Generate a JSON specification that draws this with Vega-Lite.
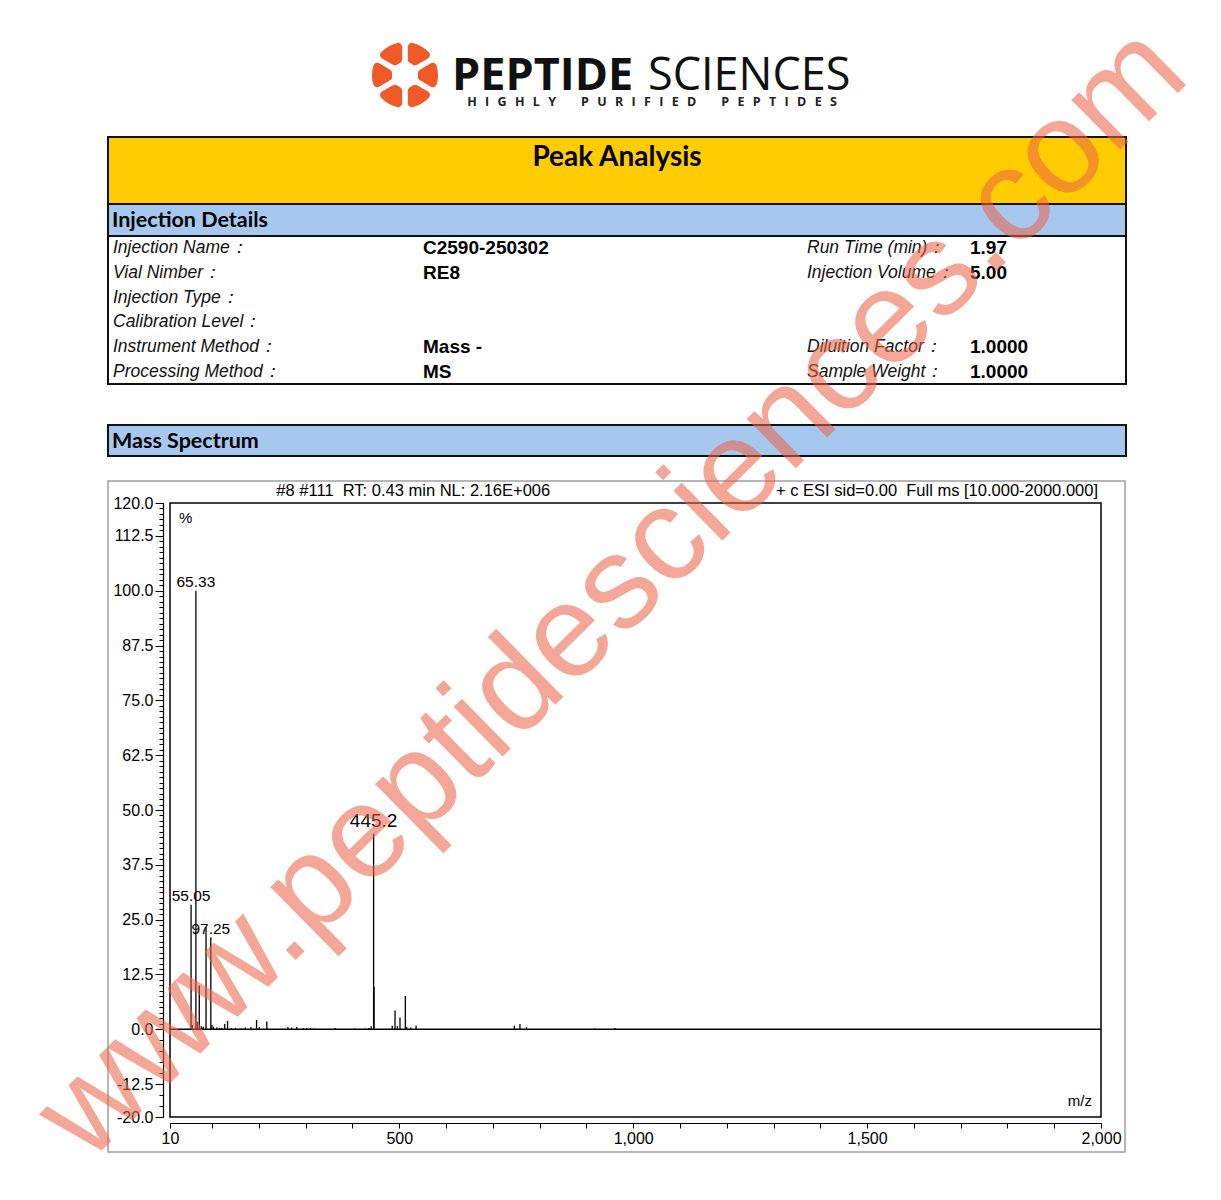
{
  "$schema": "https://vega.github.io/schema/vega-lite/v6.json",
  "background": "white",
  "padding": 0,
  "config": {
    "view": {"stroke": null},
    "font": "Liberation Sans",
    "text": {"font": "Liberation Sans", "fill": "#000"}
  },
  "datasets": {
    "peaks": [
      {"mz": 55.05, "intensity": 28.4, "label": "55.05"},
      {"mz": 57.7, "intensity": 1.0},
      {"mz": 65.33, "intensity": 100, "label": "65.33"},
      {"mz": 68.5, "intensity": 1.7},
      {"mz": 72.6, "intensity": 10.0},
      {"mz": 77.0, "intensity": 0.7},
      {"mz": 81.0, "intensity": 0.6},
      {"mz": 87.0, "intensity": 23.3},
      {"mz": 97.25, "intensity": 20.9, "label": "97.25"},
      {"mz": 99.5, "intensity": 1.0},
      {"mz": 103.0, "intensity": 0.6},
      {"mz": 110.0, "intensity": 0.4},
      {"mz": 116.0, "intensity": 0.3},
      {"mz": 121.0, "intensity": 0.3},
      {"mz": 127.0, "intensity": 1.2},
      {"mz": 133.0, "intensity": 1.9},
      {"mz": 141.0, "intensity": 0.3},
      {"mz": 150.0, "intensity": 0.3},
      {"mz": 162.0, "intensity": 0.2},
      {"mz": 171.0, "intensity": 0.4},
      {"mz": 183.0, "intensity": 0.5},
      {"mz": 195.0, "intensity": 2.1},
      {"mz": 201.0, "intensity": 0.5},
      {"mz": 217.0, "intensity": 1.8},
      {"mz": 262.0, "intensity": 0.5},
      {"mz": 270.0, "intensity": 0.4},
      {"mz": 281.0, "intensity": 0.5},
      {"mz": 295.0, "intensity": 0.3},
      {"mz": 302.0, "intensity": 0.3},
      {"mz": 310.0, "intensity": 0.3},
      {"mz": 318.0, "intensity": 0.2},
      {"mz": 363.0, "intensity": 0.3},
      {"mz": 405.0, "intensity": 0.2},
      {"mz": 427.0, "intensity": 0.2},
      {"mz": 435.0, "intensity": 0.3},
      {"mz": 440.0, "intensity": 0.7},
      {"mz": 445.2, "intensity": 44.6, "label": "445.2"},
      {"mz": 446.2, "intensity": 9.7},
      {"mz": 485.0, "intensity": 0.8},
      {"mz": 491.0, "intensity": 4.3},
      {"mz": 496.0, "intensity": 0.7},
      {"mz": 501.6, "intensity": 2.7},
      {"mz": 513.0, "intensity": 7.6},
      {"mz": 516.0, "intensity": 0.5},
      {"mz": 524.5, "intensity": 0.4},
      {"mz": 536.0, "intensity": 0.8},
      {"mz": 746.0, "intensity": 0.8},
      {"mz": 758.0, "intensity": 1.2},
      {"mz": 772.0, "intensity": 0.5},
      {"mz": 918.0, "intensity": 0.2},
      {"mz": 961.0, "intensity": 0.3}
    ],
    "details": [
      {"row": 1, "col": 0, "text": "Injection Name："},
      {"row": 1, "col": 1, "text": "C2590-250302"},
      {"row": 1, "col": 2, "text": "Run Time (min)："},
      {"row": 1, "col": 3, "text": "1.97"},
      {"row": 2, "col": 0, "text": "Vial Nimber："},
      {"row": 2, "col": 1, "text": "RE8"},
      {"row": 2, "col": 2, "text": "Injection Volume："},
      {"row": 2, "col": 3, "text": "5.00"},
      {"row": 3, "col": 0, "text": "Injection Type："},
      {"row": 4, "col": 0, "text": "Calibration Level："},
      {"row": 5, "col": 0, "text": "Instrument Method："},
      {"row": 5, "col": 1, "text": "Mass -"},
      {"row": 5, "col": 2, "text": "Diluition Factor："},
      {"row": 5, "col": 3, "text": "1.0000"},
      {"row": 6, "col": 0, "text": "Processing Method："},
      {"row": 6, "col": 1, "text": "MS"},
      {"row": 6, "col": 2, "text": "Sample Weight："},
      {"row": 6, "col": 3, "text": "1.0000"}
    ]
  },
  "bounds": "flush",
  "spacing": 0,
  "hconcat": [
    {"width": 108, "height": 20, "data": {"values": [{}]}, "mark": "text"},
    {
      "bounds": "flush",
      "spacing": 0,
      "vconcat": [
        {"width": 1018, "height": 13, "data": {"values": [{}]}, "mark": "text"},
        {
          "width": 594,
          "height": 124,
          "layer": [
            {
              "data": {"values": [{"blade": 1, "weight": 1}, {"blade": 2, "weight": 1}, {"blade": 3, "weight": 1}, {"blade": 4, "weight": 1}, {"blade": 5, "weight": 1}, {"blade": 6, "weight": 1}]},
              "mark": {"type": "arc", "innerRadius": 13, "outerRadius": 33, "padAngle": 0.16, "cornerRadius": 4, "fill": "#f05a28"},
              "encoding": {
                "theta": {"field": "weight", "type": "quantitative", "stack": true},
                "order": {"field": "blade", "type": "ordinal"}
              }
            },
            {
              "data": {"values": [{"brand": "PEPTIDE", "rest": "SCIENCES", "tag": "H\u2002\u2006I\u2002\u2006G\u2002\u2006H\u2002\u2006L\u2002\u2006Y\u2003\u2003P\u2002\u2006U\u2002\u2006R\u2002\u2006I\u2002\u2006F\u2002\u2006I\u2002\u2006E\u2002\u2006D\u2003\u2003P\u2002\u2006E\u2002\u2006P\u2002\u2006T\u2002\u2006I\u2002\u2006D\u2002\u2006E\u2002\u2006S"}]},
              "layer": [
                {"mark": {"type": "text", "font": "Open Sans", "fontWeight": "bold", "fontSize": 45, "align": "left", "baseline": "alphabetic", "dx": 47, "dy": 15, "fill": "#111"}, "encoding": {"text": {"field": "brand"}}},
                {"mark": {"type": "text", "font": "Open Sans", "fontWeight": "normal", "fontSize": 45, "align": "left", "baseline": "alphabetic", "dx": 243, "dy": 15, "fill": "#111"}, "encoding": {"text": {"field": "rest"}}},
                {"mark": {"type": "text", "font": "Open Sans", "fontWeight": "bold", "fontSize": 12.5, "align": "center", "baseline": "alphabetic", "dx": 247, "dy": 31, "fill": "#222"}, "encoding": {"text": {"field": "tag"}}}
              ]
            }
          ]
        },
        {
          "width": 1018,
          "height": 67,
          "view": {"fill": "#ffcc00", "stroke": "#111", "strokeWidth": 2},
          "data": {"values": [{"heading": "Peak Analysis"}]},
          "mark": {"type": "text", "font": "Lato", "fontWeight": "bold", "fontSize": 28, "baseline": "middle", "dy": -13},
          "encoding": {"text": {"field": "heading"}}
        },
        {
          "width": 1018,
          "height": 32,
          "view": {"fill": "#a7c8ee", "stroke": "#111", "strokeWidth": 2},
          "data": {"values": [{"heading": "Injection Details"}]},
          "mark": {"type": "text", "font": "Lato", "fontWeight": "bold", "fontSize": 21.5, "align": "left", "baseline": "middle", "dy": 1},
          "encoding": {
            "x": {"datum": 0, "type": "quantitative", "scale": {"domain": [0, 1], "range": [4, 1014], "nice": false, "zero": false}, "axis": null},
            "text": {"field": "heading"}
          }
        },
        {
          "width": 1018,
          "height": 148,
          "view": {"fill": "white", "stroke": "#111", "strokeWidth": 2},
          "data": {"name": "details"},
          "encoding": {
            "x": {"field": "col", "type": "quantitative", "scale": {"domain": [0, 1, 2, 3], "range": [5, 315, 699, 862], "nice": false, "zero": false}, "axis": null},
            "y": {"field": "row", "type": "ordinal", "axis": null},
            "text": {"field": "text"}
          },
          "layer": [
            {"transform": [{"filter": "datum.col % 2 === 0"}], "mark": {"type": "text", "align": "left", "baseline": "middle", "fontStyle": "italic", "fontSize": 17.5, "fill": "#111"}},
            {"transform": [{"filter": "datum.col % 2 === 1"}], "mark": {"type": "text", "align": "left", "baseline": "middle", "fontWeight": "bold", "fontSize": 19, "fill": "#000"}}
          ]
        },
        {"width": 1018, "height": 41, "data": {"values": [{}]}, "mark": "text"},
        {
          "width": 1018,
          "height": 31,
          "view": {"fill": "#a7c8ee", "stroke": "#111", "strokeWidth": 2},
          "data": {"values": [{"heading": "Mass Spectrum"}]},
          "mark": {"type": "text", "font": "Lato", "fontWeight": "bold", "fontSize": 21.5, "align": "left", "baseline": "middle", "dy": 1},
          "encoding": {
            "x": {"datum": 0, "type": "quantitative", "scale": {"domain": [0, 1], "range": [4, 1014], "nice": false, "zero": false}, "axis": null},
            "text": {"field": "heading"}
          }
        },
        {"width": 1018, "height": 25, "data": {"values": [{}]}, "mark": "text"},
        {
          "width": 1017,
          "height": 671,
          "view": {"fill": "white", "stroke": "#a0a0a0", "strokeWidth": 1.5},
          "resolve": {"axis": {"x": "independent", "y": "independent"}},
          "layer": [
            {
              "data": {"name": "peaks"},
              "mark": {"type": "rule", "stroke": "#000", "strokeWidth": 1.3},
              "encoding": {
                "x": {
                  "field": "mz", "type": "quantitative",
                  "scale": {"domain": [10, 2000], "range": [62, 993], "nice": false, "zero": false},
                  "axis": {
                    "orient": "bottom", "offset": -29, "title": null, "grid": false,
                    "values": [10, 100, 200, 300, 400, 500, 600, 700, 800, 900, 1000, 1100, 1200, 1300, 1400, 1500, 1600, 1700, 1800, 1900, 2000],
                    "labelExpr": "indexof([10, 500, 1000, 1500, 2000], datum.value) >= 0 ? format(datum.value, ',') : ''",
                    "tickSize": 5, "tickColor": "#000", "tickWidth": 1,
                    "domainColor": "#000", "domainWidth": 1.2,
                    "labelColor": "#000", "labelFont": "Liberation Sans", "labelFontSize": 16, "labelPadding": 2,
                    "labelOverlap": false, "labelFlush": false
                  }
                },
                "y": {
                  "field": "intensity", "type": "quantitative",
                  "scale": {"domain": [-20, 120], "range": [636, 22], "nice": false, "zero": false},
                  "axis": {
                    "orient": "left", "offset": -55, "title": null, "grid": false,
                    "values": [-20, -12.5, 0, 12.5, 25, 37.5, 50, 62.5, 75, 87.5, 100, 112.5, 120],
                    "labelExpr": "datum.value < 0 ? '-' + format(-datum.value, '.1f') : format(datum.value, '.1f')",
                    "tickSize": 8, "tickColor": "#000", "tickWidth": 1,
                    "domainColor": "#000", "domainWidth": 1.2,
                    "labelColor": "#000", "labelFont": "Liberation Sans", "labelFontSize": 16, "labelPadding": 2,
                    "labelOverlap": false, "labelFlush": false
                  }
                },
                "y2": {"datum": 0}
              }
            },
            {
              "data": {"values": [{"frame": "plot"}]},
              "mark": {"type": "rect", "filled": false, "stroke": "#000", "strokeWidth": 1.5},
              "encoding": {
                "x": {"datum": 10, "type": "quantitative", "axis": null},
                "x2": {"datum": 2000},
                "y": {
                  "datum": -20, "type": "quantitative",
                  "axis": {
                    "orient": "left", "offset": -55, "title": null, "grid": false,
                    "values": [-20, -17.5, -15, -12.5, -10, -7.5, -5, -2.5, 0, 1.25, 2.5, 3.75, 5, 6.25, 7.5, 8.75, 10, 11.25, 12.5, 13.75, 15, 16.25, 17.5, 18.75, 20, 21.25, 22.5, 23.75, 25, 26.25, 27.5, 28.75, 30, 31.25, 32.5, 33.75, 35, 36.25, 37.5, 38.75, 40, 41.25, 42.5, 43.75, 45, 46.25, 47.5, 48.75, 50, 51.25, 52.5, 53.75, 55, 56.25, 57.5, 58.75, 60, 61.25, 62.5, 63.75, 65, 66.25, 67.5, 68.75, 70, 71.25, 72.5, 73.75, 75, 76.25, 77.5, 78.75, 80, 81.25, 82.5, 83.75, 85, 86.25, 87.5, 88.75, 90, 91.25, 92.5, 93.75, 95, 96.25, 97.5, 98.75, 100, 101.25, 102.5, 103.75, 105, 106.25, 107.5, 108.75, 110, 111.25, 112.5, 113.75, 115, 116.25, 117.5, 118.75, 120],
                    "labels": false, "domain": false,
                    "tickSize": 4, "tickColor": "#000", "tickWidth": 1
                  }
                },
                "y2": {"datum": 120}
              }
            },
            {
              "data": {"values": [{"baseline": 0}]},
              "mark": {"type": "rule", "stroke": "#000", "strokeWidth": 1.5},
              "encoding": {
                "x": {"datum": 10, "type": "quantitative", "axis": null},
                "x2": {"datum": 2000},
                "y": {"field": "baseline", "type": "quantitative", "axis": null}
              }
            },
            {
              "data": {"name": "peaks"},
              "transform": [{"filter": "datum.label && datum.mz < 300"}],
              "mark": {"type": "text", "fontSize": 15.5, "align": "center", "baseline": "bottom", "dy": -1},
              "encoding": {
                "x": {"field": "mz", "type": "quantitative", "axis": null},
                "y": {"field": "intensity", "type": "quantitative", "axis": null},
                "text": {"field": "label"}
              }
            },
            {
              "data": {"name": "peaks"},
              "transform": [{"filter": "datum.label && datum.mz >= 300"}],
              "mark": {"type": "text", "fontSize": 19, "align": "center", "baseline": "bottom", "dy": -3},
              "encoding": {
                "x": {"field": "mz", "type": "quantitative", "axis": null},
                "y": {"field": "intensity", "type": "quantitative", "axis": null},
                "text": {"field": "label"}
              }
            },
            {
              "data": {"values": [{"text": "#8 #111 \u00a0RT: 0.43 min NL: 2.16E+006"}]},
              "mark": {"type": "text", "fontSize": 16.5, "align": "center", "baseline": "middle", "dy": -12},
              "encoding": {
                "x": {"datum": 530, "type": "quantitative", "axis": null},
                "y": {"datum": 120, "type": "quantitative", "axis": null},
                "text": {"field": "text"}
              }
            },
            {
              "data": {"values": [{"text": "+ c ESI sid=0.00 \u00a0Full ms [10.000-2000.000]"}]},
              "mark": {"type": "text", "fontSize": 16.5, "align": "right", "baseline": "middle", "dx": -3, "dy": -12},
              "encoding": {
                "x": {"datum": 2000, "type": "quantitative", "axis": null},
                "y": {"datum": 120, "type": "quantitative", "axis": null},
                "text": {"field": "text"}
              }
            },
            {
              "data": {"values": [{"text": "%"}]},
              "mark": {"type": "text", "fontSize": 15, "align": "left", "baseline": "middle", "dx": 9, "dy": 15},
              "encoding": {
                "x": {"datum": 10, "type": "quantitative", "axis": null},
                "y": {"datum": 120, "type": "quantitative", "axis": null},
                "text": {"field": "text"}
              }
            },
            {
              "data": {"values": [{"text": "m/z"}]},
              "mark": {"type": "text", "fontSize": 15, "align": "right", "baseline": "middle", "dx": -9, "dy": -16},
              "encoding": {
                "x": {"datum": 2000, "type": "quantitative", "axis": null},
                "y": {"datum": -20, "type": "quantitative", "axis": null},
                "text": {"field": "text"}
              }
            },
            {
              "data": {"values": [{"text": "www.peptidesciences.com"}]},
              "mark": {"type": "text", "font": "Liberation Sans", "fontSize": 132, "angle": -44.5, "align": "center", "baseline": "alphabetic", "fill": "#ec6446", "opacity": 0.56},
              "encoding": {
                "x": {"datum": 1015, "type": "quantitative", "axis": null},
                "y": {"datum": 93, "type": "quantitative", "axis": null},
                "text": {"field": "text"}
              }
            }
          ]
        }
      ]
    },
    {"width": 95, "height": 20, "data": {"values": [{}]}, "mark": "text"}
  ]
}
